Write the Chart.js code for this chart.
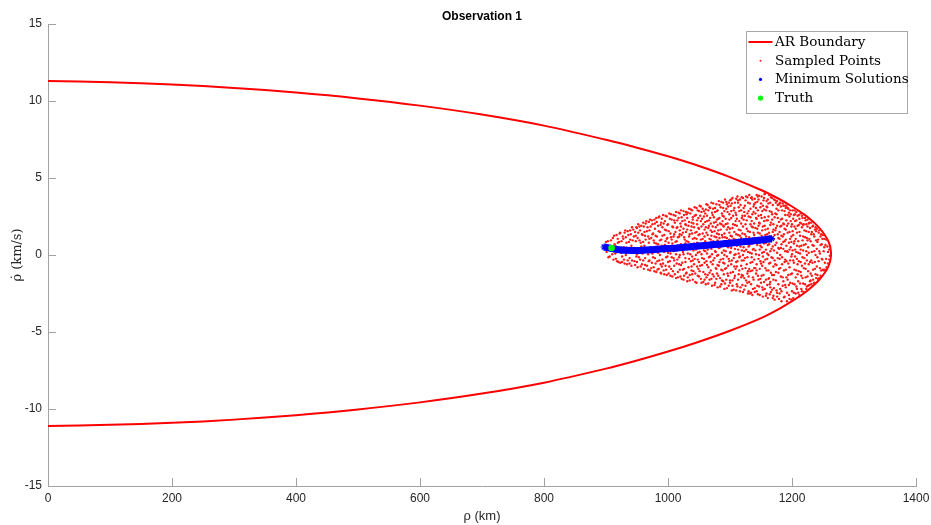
<!DOCTYPE html>
<html>
<head>
<meta charset="utf-8">
<script src="https://cdn.jsdelivr.net/npm/chart.js@4.4.1/dist/chart.umd.min.js"></script>
<style>
  html, body { margin: 0; padding: 0; background: #ffffff; }
  #wrap { width: 931px; height: 525px; }
</style>
</head>
<body>
<div id="wrap"><canvas id="c" width="931" height="525"></canvas></div>
<script>
// ---- Axis ticks ----
const xTicks = [0, 200, 400, 600, 800, 1000, 1200, 1400];
const yTicks = [-15, -10, -5, 0, 5, 10, 15];

// ---- Admissible-region boundary (upper and lower branches) ----
const boundaryRho   = [0, 100, 200, 300, 400, 500, 600, 700, 800, 900, 950, 1000, 1050, 1100, 1150, 1180, 1200, 1220, 1235, 1245, 1252, 1257, 1260, 1262];
const boundaryUpper = [11.30, 11.22, 11.07, 10.85, 10.55, 10.17, 9.70, 9.12, 8.40, 7.48, 6.97, 6.41, 5.78, 5.06, 4.22, 3.62, 3.15, 2.62, 2.12, 1.71, 1.35, 1.03, 0.75, 0.45];
const boundaryLower = [-11.10, -11.03, -10.90, -10.69, -10.40, -10.03, -9.57, -9.00, -8.29, -7.38, -6.85, -6.27, -5.63, -4.92, -4.10, -3.48, -3.00, -2.47, -1.97, -1.56, -1.20, -0.88, -0.60, -0.30];
const tipRho = 1263;
const tipRhoDot = 0.05;

// ---- Sampled points [rho, rhoDot] ----
const sampledA = [
[898,0.6],[901,0.2],[903,0.9],[906,-0.1],[909,0.5],
[911,1.1],[912,-0.3],[914,0.7],[915,0.1],[917,1.3],[918,-0.4],[919,0.8],
[921,0.3],[922,1.4],[923,-0.5],[925,0.9],[926,-0.1],[927,1.2],[929,0.5],[929,-0.3],
[931,1.6],[932,0.0],[933,0.8],[934,-0.6],[936,1.3],[937,0.4],[938,-0.2],[939,1.0],[939,1.6],
[941,0.6],[941,-0.7],[942,1.8],[944,0.2],[945,1.2],[946,-0.4],[947,1.5],[948,0.9],[949,-0.1],[949,1.8],
[951,-0.8],[951,1.1],[952,2.0],[953,0.4],[955,1.6],[955,-0.3],[956,0.8],[957,1.9],[958,-0.6],[959,0.1],[959,1.3],
[960,2.1],[961,-0.9],[962,0.6],[962,1.5],[963,-0.2],[964,1.0],[965,2.2],[966,-0.7],[967,0.3],[967,1.8],[968,1.2],[969,-0.4],[969,0.8],
[970,1.6],[971,-1.0],[971,2.3],[972,0.5],[973,1.1],[974,-0.5],[975,2.0],[975,0.1],[976,1.4],[977,-0.8],[978,0.8],[978,2.3],[979,-0.2],[979,1.7],
[980,0.4],[981,2.4],[981,-1.1],[982,1.2],[983,-0.4],[984,1.9],[984,0.7],[985,-0.9],[986,2.5],[987,0.0],[987,1.5],[988,-0.6],[989,1.0],[989,2.1],[989,-1.2],
[990,0.6],[991,1.8],[991,-0.3],[992,2.6],[993,-1.0],[994,1.3],[994,0.2],[995,2.2],[996,-0.7],[996,0.9],[997,1.6],[998,-1.3],[998,2.5],[999,0.4],[999,-0.1],[999,1.1],
[900,0.85],[904,-0.15],[907,0.35],[908,0.95],
[910,0.05],[913,1.25],[916,-0.25],[916,0.55],[919,1.05],[920,-0.45],
[921,0.85],[923,1.45],[924,0.15],[926,-0.45],[928,1.05],[928,0.25],[930,1.45],
[930,-0.55],[932,1.15],[933,0.45],[935,-0.35],[935,1.55],[937,0.85],[938,-0.55],[940,0.25],
[940,1.35],[942,-0.35],[943,0.95],[944,1.65],[946,0.45],[947,-0.65],[948,1.25],[950,0.05],[950,1.75],
[950,-0.45],[952,1.45],[953,-0.15],[954,0.95],[954,1.85],[956,-0.75],[957,0.55],[958,1.35],[960,-0.35],[960,0.85],
[961,1.85],[961,0.25],[963,-0.65],[963,1.25],[964,2.05],[965,0.45],[966,1.55],[968,-0.95],[968,0.05],[969,2.15],[970,1.05],
[970,-0.35],[972,1.85],[973,-0.85],[973,0.35],[974,2.25],[975,1.35],[976,-0.15],[977,0.95],[978,-1.05],[979,2.05],[980,1.25],[980,-0.55],
[981,0.75],[982,2.15],[983,-0.95],[984,0.15],[985,1.55],[985,2.45],[986,-0.35],[987,0.95],[988,1.95],[988,-1.15],[989,0.35],[990,2.35],[990,-0.75],
[991,1.25],[992,-0.55],[992,0.35],[993,2.05],[994,-1.25],[995,1.65],[995,0.65],[996,2.55],[997,-0.15],[997,-0.95],[998,1.05],[999,1.95],[1000,0.15],[1000,-0.45]
];
const sampledB = [
[1000,2.0],[1001,-1.2],[1001,0.8],[1002,2.7],[1003,-0.4],[1004,1.4],[1004,0.1],[1005,-0.9],[1006,2.3],[1006,1.0],[1007,-1.4],[1008,0.5],[1008,1.8],[1009,-0.2],[1009,2.6],[1009,1.2],
[1010,-0.7],[1011,0.3],[1011,2.1],[1012,1.5],[1013,-1.5],[1013,2.8],[1014,0.9],[1015,-0.3],[1015,1.8],[1016,-1.1],[1017,2.4],[1017,0.6],[1018,1.2],[1018,-0.6],[1019,2.7],[1019,0.0],[1019,1.6],
[1020,-1.4],[1021,0.7],[1021,2.9],[1022,1.3],[1023,-0.5],[1023,2.2],[1024,0.2],[1025,-1.6],[1025,1.7],[1026,2.6],[1026,-0.9],[1027,1.0],[1027,0.4],[1028,2.0],[1028,-0.2],[1029,-1.2],[1029,1.5],[1029,2.8],
[1030,0.9],[1031,-1.7],[1031,2.4],[1032,0.1],[1033,1.9],[1033,-0.8],[1034,3.0],[1034,1.2],[1035,-1.3],[1036,0.5],[1036,2.7],[1037,-0.4],[1037,1.6],[1038,2.1],[1038,-1.0],[1039,0.7],[1039,2.9],[1039,-0.1],[1039,1.4],
[1040,-1.6],[1040,2.3],[1041,0.3],[1042,1.8],[1042,-0.6],[1043,3.1],[1043,1.1],[1044,-1.2],[1045,2.6],[1045,0.0],[1046,1.5],[1046,-1.8],[1047,0.8],[1047,2.0],[1048,-0.3],[1048,2.9],[1049,1.3],[1049,-0.9],[1049,0.5],[1049,2.4],
[1050,-1.4],[1050,1.7],[1051,3.2],[1051,0.2],[1052,-0.7],[1053,2.2],[1053,1.0],[1054,-1.8],[1054,2.8],[1055,0.6],[1055,-0.2],[1056,1.4],[1056,3.0],[1057,-1.1],[1057,2.0],[1058,0.3],[1058,2.5],[1059,-0.5],[1059,1.2],[1059,-1.6],
[1060,2.7],[1060,0.9],[1061,-1.9],[1061,1.8],[1062,-0.4],[1062,3.3],[1063,0.1],[1063,2.2],[1064,-1.3],[1064,1.3],[1065,2.9],[1065,-0.8],[1066,0.6],[1066,1.9],[1067,-1.6],[1067,3.1],[1068,-0.1],[1068,2.4],[1069,1.0],[1069,-1.0],[1069,1.6],
[1070,0.4],[1070,3.4],[1071,-2.0],[1071,1.5],[1072,2.6],[1072,-0.6],[1073,0.9],[1073,3.0],[1074,-1.4],[1074,2.1],[1075,-0.2],[1075,1.2],[1076,2.8],[1076,-1.8],[1077,0.2],[1077,1.8],[1078,3.3],[1078,-0.9],[1079,0.7],[1079,2.3],[1079,-1.2],[1079,1.4],
[1080,-2.1],[1080,2.9],[1081,0.0],[1081,1.6],[1082,3.5],[1082,-0.7],[1083,1.1],[1083,2.4],[1084,-1.5],[1084,0.5],[1085,3.1],[1085,-0.3],[1086,2.0],[1086,-1.9],[1087,1.3],[1087,2.7],[1088,-1.0],[1088,0.8],[1089,3.4],[1089,1.9],[1089,-0.5],[1089,-1.7],[1088,2.2],
[1090,0.3],[1090,2.5],[1091,-2.2],[1091,1.4],[1092,3.6],[1092,-0.9],[1093,0.7],[1093,2.0],[1094,-1.6],[1094,3.0],[1095,-0.1],[1095,1.1],[1096,2.8],[1096,-1.2],[1097,0.5],[1097,1.8],[1098,3.4],[1098,-2.0],[1099,-0.4],[1099,2.3],[1099,1.0],[1097,-0.7],[1095,3.3],[1091,0.0],
[1001,1.55],[1002,-0.75],[1002,0.45],[1003,2.35],[1004,-1.35],[1005,1.15],[1005,2.65],[1006,-0.15],[1007,0.75],[1007,1.85],[1008,-1.05],[1009,0.25],[1010,2.25],[1010,1.35],[1010,-0.35],
[1011,-1.25],[1012,0.85],[1012,2.55],[1013,0.05],[1014,1.75],[1014,-0.55],[1015,2.25],[1016,1.15],[1016,-1.45],[1017,0.35],[1017,2.75],[1018,-0.15],[1019,1.35],[1019,-0.95],[1020,2.05],[1020,0.55],
[1021,1.85],[1021,-0.65],[1022,-1.55],[1022,2.45],[1023,0.45],[1024,1.45],[1024,-0.95],[1025,2.85],[1025,0.05],[1026,1.15],[1026,-1.35],[1027,2.25],[1028,0.75],[1028,-0.45],[1029,1.95],[1030,-1.15],[1030,2.65],
[1031,0.35],[1031,1.65],[1032,-1.45],[1032,2.75],[1033,0.85],[1034,-0.25],[1034,2.15],[1035,1.35],[1035,-1.65],[1036,0.05],[1037,2.95],[1037,0.65],[1038,-0.75],[1038,1.85],[1039,-1.25],[1040,2.45],[1040,1.05],[1040,-0.35],
[1041,2.05],[1041,-1.05],[1042,0.75],[1043,-0.25],[1043,2.55],[1044,1.45],[1044,-1.75],[1045,0.35],[1046,3.05],[1046,1.05],[1047,-0.75],[1047,2.25],[1048,0.15],[1048,-1.35],[1049,1.75],[1050,2.85],[1050,0.55],[1050,-0.45],
[1051,-1.05],[1051,1.35],[1052,2.55],[1052,0.65],[1053,-1.55],[1053,3.15],[1054,0.05],[1054,1.85],[1055,-0.65],[1055,2.35],[1056,1.05],[1057,-1.75],[1057,0.45],[1058,2.85],[1058,-0.25],[1059,1.65],[1060,-1.25],[1060,2.15],[1060,0.25],
[1061,0.55],[1061,2.95],[1062,-1.45],[1062,1.45],[1063,-0.65],[1063,2.55],[1064,0.35],[1064,3.25],[1065,-1.85],[1065,1.75],[1066,-0.15],[1066,2.25],[1067,1.05],[1067,-1.15],[1068,3.05],[1068,0.75],[1069,-0.45],[1069,2.05],[1070,-1.55],[1070,1.25],
[1071,2.75],[1071,0.05],[1072,-1.25],[1072,1.85],[1073,3.35],[1073,-0.35],[1074,0.65],[1074,2.45],[1075,-1.95],[1075,1.55],[1076,0.25],[1076,3.05],[1077,-0.85],[1077,2.15],[1078,1.15],[1078,-1.55],[1079,2.85],[1079,-0.05],[1080,0.95],[1080,1.95],[1080,-0.65],
[1081,-1.35],[1081,2.35],[1082,0.45],[1082,1.35],[1083,3.25],[1083,-0.45],[1084,-2.05],[1084,2.05],[1085,0.85],[1085,1.65],[1086,-0.95],[1086,3.45],[1087,0.15],[1087,-1.65],[1088,2.55],[1088,1.15],[1089,-0.25],[1089,3.05],[1090,0.65],[1090,-1.25],[1090,1.85],
[1091,2.85],[1091,-0.55],[1092,1.15],[1092,-1.85],[1093,2.35],[1093,0.25],[1094,3.45],[1094,-0.85],[1095,1.65],[1095,-2.15],[1096,0.55],[1096,2.05],[1097,3.15],[1097,-1.35],[1098,0.95],[1098,-0.25],[1099,2.65],[1099,1.45],[1100,-1.65],[1100,3.55],[1100,0.15]
];
const sampledC = [
[1100,1.7],[1100,-1.8],[1101,3.2],[1101,0.2],[1102,-0.6],[1102,2.4],[1103,1.2],[1103,-2.3],[1104,3.7],[1104,0.8],[1105,-1.1],[1105,2.0],[1106,-0.2],[1106,2.9],[1107,1.5],[1107,-1.5],[1108,0.4],[1108,3.4],[1109,-0.9],[1109,2.2],[1109,1.0],[1104,-2.0],[1102,3.6],[1107,0.0],
[1110,-2.3],[1110,2.6],[1111,0.6],[1111,1.9],[1112,3.8],[1112,-0.4],[1113,1.3],[1113,-1.6],[1114,3.1],[1114,0.1],[1115,2.2],[1115,-1.0],[1116,3.6],[1116,0.9],[1117,-2.1],[1117,1.6],[1118,2.9],[1118,-0.7],[1119,0.3],[1119,2.4],[1119,-1.3],[1116,-0.1],[1113,3.4],[1111,-1.9],[1118,1.1],
[1120,1.4],[1120,-0.9],[1121,3.7],[1121,-2.4],[1122,0.5],[1122,2.3],[1123,-1.5],[1123,1.0],[1124,3.2],[1124,-0.2],[1125,2.0],[1125,-2.0],[1126,0.8],[1126,3.8],[1127,-0.6],[1127,1.7],[1128,2.7],[1128,-1.2],[1129,0.2],[1129,3.4],[1129,-2.5],[1126,1.2],[1123,2.8],[1121,0.0],[1128,-1.8],
[1130,2.5],[1130,-1.4],[1131,0.6],[1131,3.9],[1132,-2.5],[1132,1.5],[1133,-0.5],[1133,3.0],[1134,1.0],[1134,-1.9],[1135,2.2],[1135,0.1],[1136,3.6],[1136,-1.0],[1137,1.8],[1137,-2.2],[1138,0.4],[1138,2.8],[1139,-0.3],[1139,3.3],[1139,1.3],[1136,-2.6],[1133,2.0],[1131,-0.9],[1138,-1.6],[1134,3.7],
[1140,-2.4],[1140,1.1],[1141,3.4],[1141,0.3],[1142,-1.2],[1142,2.4],[1143,3.9],[1143,-0.6],[1144,1.7],[1144,-2.0],[1145,0.8],[1145,2.9],[1146,-1.6],[1146,3.6],[1147,0.0],[1147,2.1],[1148,-2.6],[1148,1.4],[1149,-0.4],[1149,3.1],[1149,0.6],[1146,1.9],[1143,-1.0],[1141,2.7],[1148,-0.9],[1145,3.8],
[1150,2.6],[1150,-1.8],[1151,0.5],[1151,3.8],[1152,-0.7],[1152,1.6],[1153,-2.7],[1153,3.2],[1154,1.0],[1154,-1.3],[1155,2.2],[1155,0.2],[1156,4.0],[1156,-2.2],[1157,1.3],[1157,-0.3],[1158,2.9],[1158,0.8],[1159,-1.0],[1159,3.5],[1159,-2.5],[1156,1.9],[1153,-0.1],[1151,2.4],[1158,-1.6],[1155,3.7],[1152,-2.1],
[1160,0.1],[1160,3.1],[1161,-2.8],[1161,1.7],[1162,-1.0],[1162,2.5],[1163,3.9],[1163,0.7],[1164,-1.9],[1164,1.2],[1165,3.4],[1165,-0.5],[1166,2.1],[1166,-2.4],[1167,0.4],[1167,2.8],[1168,-1.3],[1168,3.7],[1169,1.5],[1169,-0.2],[1169,-2.8],[1166,0.9],[1163,-1.5],[1161,3.6],[1168,2.3],[1165,-2.1],[1162,0.0],
[1170,2.0],[1170,-1.6],[1171,3.6],[1171,0.3],[1172,-2.9],[1172,1.3],[1173,-0.6],[1173,2.7],[1174,3.4],[1174,-1.1],[1175,0.8],[1175,-2.3],[1176,1.9],[1176,3.5],[1177,-0.2],[1177,2.4],[1178,-1.9],[1178,1.1],[1179,3.3],[1179,-0.9],[1179,0.4],[1176,-2.7],[1173,1.6],[1171,-1.3],[1178,2.9],[1175,3.0],
[1180,-2.5],[1180,1.5],[1181,3.4],[1181,0.0],[1182,-1.4],[1182,2.3],[1183,0.7],[1183,-3.0],[1184,2.9],[1184,-0.6],[1185,1.2],[1185,-2.0],[1186,3.2],[1186,0.4],[1187,-1.0],[1187,2.0],[1188,-2.7],[1188,1.7],[1189,-0.3],[1189,2.6],[1189,3.2],[1186,-1.7],[1183,1.9],[1181,-2.2],[1188,0.9],
[1190,1.0],[1190,-2.1],[1191,3.2],[1191,-0.4],[1192,1.9],[1192,-3.0],[1193,0.2],[1193,2.6],[1194,-1.3],[1194,3.0],[1195,0.8],[1195,-2.6],[1196,1.5],[1196,-0.8],[1197,2.9],[1197,-1.8],[1198,0.5],[1198,2.2],[1199,-2.9],[1199,1.2],[1199,-0.1],[1196,2.5],[1193,-1.6],[1191,0.6],
[1101,1.25],[1101,-1.15],[1102,2.85],[1102,0.45],[1103,-0.35],[1103,3.35],[1104,1.75],[1104,-1.65],[1105,0.65],[1105,2.55],[1106,-2.25],[1106,1.05],[1107,3.05],[1107,-0.75],[1108,1.95],[1108,-1.35],[1109,0.05],[1109,2.75],[1110,3.65],[1110,-0.45],[1110,1.35],
[1111,2.35],[1111,-0.75],[1112,0.95],[1112,-2.05],[1113,3.55],[1113,0.35],[1114,1.65],[1114,-1.25],[1115,2.85],[1115,-0.15],[1116,-2.35],[1116,1.25],[1117,3.25],[1117,0.55],[1118,-1.45],[1118,2.05],[1119,3.75],[1119,-0.35],[1120,0.85],[1120,2.55],[1120,-1.95],
[1121,1.85],[1121,-1.35],[1122,3.05],[1122,-0.35],[1123,0.25],[1123,-2.25],[1124,2.55],[1124,1.35],[1125,-0.85],[1125,3.55],[1126,0.35],[1126,-1.65],[1127,2.25],[1127,0.95],[1128,3.75],[1128,-0.15],[1129,1.55],[1129,-1.05],[1130,2.85],[1130,0.55],[1130,-2.35],
[1131,-1.75],[1131,1.15],[1132,3.35],[1132,0.15],[1133,-1.05],[1133,2.45],[1134,-2.45],[1134,0.75],[1135,1.85],[1135,3.75],[1136,-0.45],[1136,2.65],[1137,0.35],[1137,-1.45],[1138,1.45],[1138,3.15],[1139,-0.85],[1139,2.05],[1140,-2.15],[1140,0.95],[1140,3.65],[1135,-0.15],
[1141,1.75],[1141,-0.85],[1142,3.05],[1142,0.05],[1143,-2.35],[1143,2.35],[1144,0.65],[1144,3.45],[1145,-1.35],[1145,1.45],[1146,-0.25],[1146,2.55],[1147,-2.05],[1147,3.85],[1148,0.35],[1148,2.05],[1149,-1.55],[1149,1.05],[1150,3.35],[1150,-0.55],[1150,0.85],[1145,-2.55],
[1151,-1.35],[1151,1.25],[1152,2.85],[1152,0.15],[1153,-2.25],[1153,1.85],[1154,3.55],[1154,-0.45],[1155,0.75],[1155,-1.75],[1156,2.45],[1156,3.95],[1157,-0.85],[1157,1.65],[1158,-2.65],[1158,0.35],[1159,2.25],[1159,3.15],[1160,-0.25],[1160,1.35],[1160,-1.95],[1155,2.95],
[1161,0.65],[1161,2.25],[1162,-1.55],[1162,3.35],[1163,-0.55],[1163,1.45],[1164,2.85],[1164,-2.55],[1165,0.25],[1165,1.95],[1166,3.75],[1166,-1.15],[1167,-0.15],[1167,1.15],[1168,-2.25],[1168,2.65],[1169,0.55],[1169,3.25],[1170,-0.75],[1170,1.65],[1170,-2.65],[1165,-1.75],
[1171,1.05],[1171,-2.15],[1172,2.45],[1172,-0.35],[1173,3.55],[1173,0.65],[1174,-1.65],[1174,1.75],[1175,-0.65],[1175,2.65],[1176,0.15],[1176,-2.45],[1177,1.35],[1177,3.25],[1178,-1.15],[1178,0.45],[1179,2.15],[1179,-2.85],[1180,3.35],[1180,-0.25],[1180,1.05],
[1181,1.85],[1181,-0.85],[1182,3.15],[1182,0.45],[1183,-2.35],[1183,1.25],[1184,-0.15],[1184,2.35],[1185,3.35],[1185,-1.45],[1186,0.85],[1186,2.05],[1187,-2.75],[1187,1.35],[1188,-0.45],[1188,2.85],[1189,0.25],[1189,-1.95],[1190,1.65],[1190,3.05],[1190,-0.95],
[1191,2.25],[1191,-1.45],[1192,0.25],[1192,-2.45],[1193,1.45],[1193,3.05],[1194,-0.55],[1194,2.05],[1195,-1.95],[1195,2.75],[1196,0.35],[1196,-2.85],[1197,1.05],[1197,-0.35],[1198,2.65],[1198,-1.25],[1199,0.85],[1199,1.85],[1200,-2.35],[1200,0.05]
];
const sampledD = [
[1200,-1.2],[1200,2.0],[1201,2.9],[1201,0.3],[1202,-2.8],[1202,1.3],[1203,-0.5],[1203,2.6],[1204,0.9],[1204,-1.9],[1205,2.2],[1205,-0.1],[1206,-2.5],[1206,1.7],[1207,2.8],[1207,-1.0],[1208,0.6],[1208,-2.2],[1209,1.9],[1209,-0.6],[1204,2.9],[1207,0.2],
[1210,0.9],[1210,-1.7],[1211,2.6],[1211,-0.4],[1212,1.5],[1212,-2.6],[1213,0.1],[1213,2.1],[1214,-1.1],[1214,2.7],[1215,0.6],[1215,-2.2],[1216,1.8],[1216,-0.7],[1217,2.4],[1217,-1.5],[1218,0.3],[1218,1.2],[1219,-2.4],[1219,2.0],
[1220,-0.2],[1220,1.6],[1221,2.4],[1221,-1.9],[1222,0.7],[1222,-0.9],[1223,2.0],[1223,-2.2],[1224,1.1],[1224,0.0],[1225,-1.4],[1225,2.3],[1226,0.5],[1226,-2.0],[1227,1.5],[1227,-0.6],[1228,2.1],[1229,-1.7],
[1230,0.9],[1230,-1.2],[1231,2.1],[1231,-1.9],[1232,0.2],[1232,1.5],[1233,-0.5],[1234,1.9],[1234,-1.6],[1235,0.6],[1236,-1.8],[1236,1.2],[1237,-0.9],[1238,1.8],[1238,0.0],[1239,-1.5],
[1240,0.4],[1240,1.7],[1241,-1.3],[1242,1.0],[1243,-0.4],[1244,1.6],[1244,-1.5],[1245,0.1],[1246,1.2],[1247,-1.0],[1248,0.7],[1249,-0.3],
[1250,1.3],[1251,-1.0],[1252,0.5],[1253,-0.5],[1255,1.0],[1256,-0.8],[1258,0.2],[1260,-0.3],
[1201,-1.85],[1201,1.55],[1202,2.35],[1202,-0.35],[1203,0.75],[1203,-2.45],[1204,1.85],[1204,-0.95],[1205,2.65],[1205,0.35],[1206,-1.45],[1206,1.05],[1207,2.25],[1207,-2.05],[1208,-0.25],[1208,1.45],[1209,2.55],[1209,-1.25],[1210,0.15],[1210,-2.45],
[1211,1.95],[1211,-1.05],[1212,0.55],[1212,2.35],[1213,-1.85],[1213,1.25],[1214,-0.45],[1214,0.35],[1215,2.05],[1215,-1.35],[1216,2.55],[1216,-2.35],[1217,0.95],[1217,-0.15],[1218,1.95],[1218,-1.85],[1219,0.65],[1219,-0.85],
[1221,1.15],[1221,-0.55],[1222,2.25],[1222,-1.45],[1223,0.25],[1223,1.55],[1224,-2.05],[1224,-0.35],[1225,0.95],[1225,1.85],[1226,-1.05],[1227,2.05],[1227,0.15],[1228,-1.95],[1228,1.05],[1229,-0.45],[1229,1.75],[1230,-1.65],
[1231,1.35],[1231,-0.35],[1232,-1.35],[1233,1.85],[1233,0.65],[1234,-0.95],[1235,1.35],[1235,-1.85],[1236,0.25],[1237,1.65],[1237,-0.45],[1238,-1.25],[1239,0.95],[1239,1.55],[1240,-0.75],
[1241,0.85],[1241,-0.15],[1242,-1.55],[1243,1.45],[1244,0.25],[1245,-0.85],[1246,0.65],[1246,-1.35],[1247,1.35],[1248,-0.25],[1249,1.05],[1250,-0.95],
[1251,0.25],[1252,1.05],[1253,-0.95],[1254,0.65],[1255,-0.25],[1257,0.55],[1258,-0.55],[1260,0.35],[1261,-0.05]
];

// ---- Minimum-cost solutions ----
const minRho    = [897, 902, 907, 912, 918, 925, 933, 942, 952, 962, 972, 982, 993, 1004, 1015, 1026, 1037, 1048, 1059, 1070, 1081, 1092, 1103, 1114, 1125, 1136, 1147, 1158, 1167];
const minRhoDot = [0.52, 0.48, 0.44, 0.40, 0.36, 0.33, 0.31, 0.30, 0.30, 0.32, 0.34, 0.37, 0.40, 0.43, 0.46, 0.50, 0.54, 0.58, 0.62, 0.66, 0.70, 0.74, 0.78, 0.83, 0.87, 0.91, 0.96, 1.01, 1.06];

// ---- True state ----
const truthRho = [909];
const truthRhoDot = [0.45];

// ---- Build datasets ----
const boundaryPts = [
  ...boundaryRho.map((r, i) => ({ x: r, y: boundaryUpper[i] })),
  { x: tipRho, y: tipRhoDot },
  ...boundaryRho.map((r, i) => ({ x: r, y: boundaryLower[i] })).reverse()
];
const sampledPts = [...sampledA, ...sampledB, ...sampledC, ...sampledD].map(p => ({ x: p[0], y: p[1] }));
const minPts = minRho.map((r, i) => ({ x: r, y: minRhoDot[i] }));
const truthPts = truthRho.map((r, i) => ({ x: r, y: truthRhoDot[i] }));

const AXIS_GRAY = '#a3a3a3';
const TEXT_DARK = '#262626';
const TICK_LEN = 8;

// Inward tick marks, drawn along the left and bottom axis lines
const inwardTicks = {
  id: 'inwardTicks',
  afterDraw(chart) {
    const { ctx, chartArea, scales } = chart;
    ctx.save();
    ctx.strokeStyle = AXIS_GRAY;
    ctx.lineWidth = 1;
    ctx.beginPath();
    xTicks.forEach(v => {
      const px = Math.round(scales.x.getPixelForValue(v)) + 0.5;
      ctx.moveTo(px, chartArea.bottom);
      ctx.lineTo(px, chartArea.bottom - TICK_LEN);
    });
    yTicks.forEach(v => {
      const py = Math.round(scales.y.getPixelForValue(v)) + 0.5;
      ctx.moveTo(chartArea.left, py);
      ctx.lineTo(chartArea.left + TICK_LEN, py);
    });
    ctx.stroke();
    ctx.restore();
  }
};

// Title above the plot area
const plotTitle = {
  id: 'plotTitle',
  afterDraw(chart) {
    const { ctx, chartArea } = chart;
    ctx.save();
    ctx.font = 'bold 12px "Liberation Sans", Arial, sans-serif';
    ctx.fillStyle = '#000000';
    ctx.textAlign = 'center';
    ctx.textBaseline = 'middle';
    ctx.fillText('Observation 1', (chartArea.left + chartArea.right) / 2, 17);
    ctx.restore();
  }
};

// Boxed legend in the upper-right corner of the plot area
const boxLegend = {
  id: 'boxLegend',
  afterDraw(chart) {
    const { ctx } = chart;
    const ds = chart.data.datasets;
    const bx = 746.5, by = 31.5, boxW = 161, boxH = 82;
    ctx.save();
    ctx.fillStyle = '#ffffff';
    ctx.fillRect(bx, by, boxW, boxH);
    ctx.strokeStyle = '#a8a8a8';
    ctx.lineWidth = 1;
    ctx.strokeRect(bx, by, boxW, boxH);
    ctx.font = '13.5px "DejaVu Serif", "Liberation Serif", serif';
    ctx.textBaseline = 'middle';
    ctx.textAlign = 'left';
    const rowH = 18.7;
    ds.forEach((d, k) => {
      const cy = by + 10.5 + k * rowH;
      const mx = bx + 14;
      if (k === 0) {
        ctx.strokeStyle = d.borderColor;
        ctx.lineWidth = 2;
        ctx.beginPath();
        ctx.moveTo(bx + 2, cy);
        ctx.lineTo(bx + 26, cy);
        ctx.stroke();
      } else {
        ctx.fillStyle = d.backgroundColor;
        ctx.beginPath();
        const r = k === 3 ? 2.6 : (k === 2 ? 1.6 : 1.0);
        ctx.arc(mx, cy, r, 0, Math.PI * 2);
        ctx.fill();
      }
      ctx.fillStyle = '#000000';
      ctx.fillText(d.label, bx + 28.5, cy + 0.5);
    });
    ctx.restore();
  }
};

new Chart(document.getElementById('c'), {
  type: 'scatter',
  data: {
    datasets: [
      {
        label: 'AR Boundary',
        data: boundaryPts,
        showLine: true,
        borderColor: '#ff0000',
        backgroundColor: '#ff0000',
        borderWidth: 2,
        pointRadius: 0,
        tension: 0.3,
        order: 4
      },
      {
        label: 'Sampled Points',
        data: sampledPts,
        showLine: false,
        backgroundColor: '#ff1a1a',
        borderWidth: 0,
        pointRadius: 1.2,
        pointHoverRadius: 1.2,
        order: 3
      },
      {
        label: 'Minimum Solutions',
        data: minPts,
        showLine: true,
        borderColor: '#0000ff',
        backgroundColor: '#0000ff',
        borderWidth: 7,
        tension: 0.3,
        pointStyle: 'star',
        pointRadius: 3.5,
        pointBorderColor: '#0000ff',
        pointBorderWidth: 1.2,
        order: 2
      },
      {
        label: 'Truth',
        data: truthPts,
        showLine: false,
        backgroundColor: '#00ff00',
        borderColor: '#00ff00',
        borderWidth: 0,
        pointRadius: 3.3,
        order: 1
      }
    ]
  },
  options: {
    responsive: false,
    animation: false,
    events: [],
    layout: { padding: { top: 24, right: 15, left: 0, bottom: 0 } },
    plugins: {
      legend: { display: false },
      tooltip: { enabled: false },
      title: { display: false }
    },
    scales: {
      x: {
        type: 'linear',
        min: 0,
        max: 1400,
        afterFit(scale) {
          scale.height = 39;
          scale.paddingLeft = 0;
          scale.paddingRight = 0;
        },
        afterBuildTicks(scale) { scale.ticks = xTicks.map(v => ({ value: v })); },
        grid: { display: false, drawTicks: false },
        border: { display: true, color: AXIS_GRAY, width: 1 },
        ticks: {
          padding: 5,
          color: TEXT_DARK,
          font: { family: '"Liberation Sans", Arial, sans-serif', size: 12 },
          maxRotation: 0,
          callback: v => String(v)
        },
        title: {
          display: true,
          text: 'ρ (km)',
          color: TEXT_DARK,
          font: { family: '"Liberation Sans", Arial, sans-serif', size: 13 },
          padding: { top: 0, bottom: 1 }
        }
      },
      y: {
        type: 'linear',
        min: -15,
        max: 15,
        afterFit(scale) {
          scale.width = 48;
          scale.paddingTop = 0;
          scale.paddingBottom = 0;
        },
        afterBuildTicks(scale) { scale.ticks = yTicks.map(v => ({ value: v })); },
        grid: { display: false, drawTicks: false },
        border: { display: true, color: AXIS_GRAY, width: 1 },
        ticks: {
          padding: 6,
          color: TEXT_DARK,
          font: { family: '"Liberation Sans", Arial, sans-serif', size: 12 },
          callback: v => String(v)
        },
        title: {
          display: true,
          text: 'ρ̇ (km/s)',
          color: TEXT_DARK,
          font: { family: '"DejaVu Serif", "Liberation Serif", serif', size: 13 },
          padding: { top: 10, bottom: 0 }
        }
      }
    }
  },
  plugins: [inwardTicks, plotTitle, boxLegend]
});
</script>
</body>
</html>
